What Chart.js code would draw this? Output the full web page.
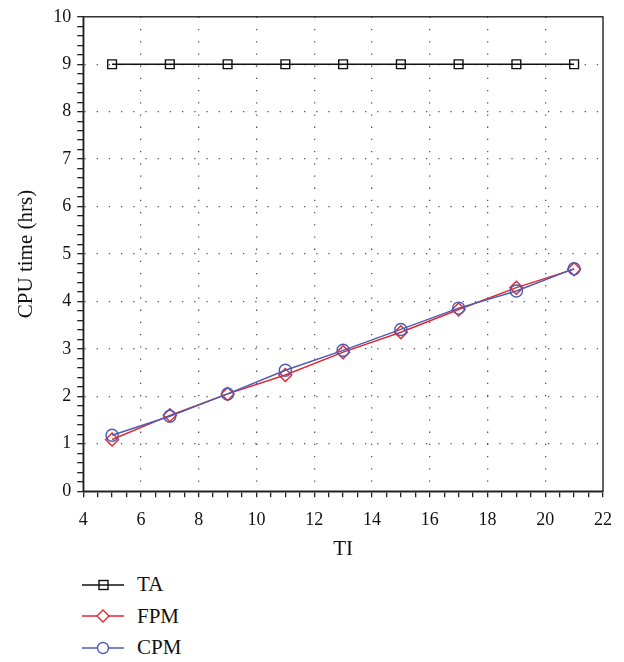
<!DOCTYPE html>
<html>
<head>
<meta charset="utf-8">
<script src="https://cdn.jsdelivr.net/npm/chart.js@4"></script>
<style>
    body { margin: 0; background: #fff; }
    #wrap { position: relative; width: 624px; height: 662px; }
    #box { position: absolute; left: 0; top: 0; width: 624px; height: 562px; }
    #legend { position: absolute; left: 82px; top: 569px; font-family: "Liberation Serif", serif; font-size: 21px; color: #111; }
    #legend .row { display: flex; align-items: center; height: 31.5px; }
    #legend svg { margin-right: 13px; }
</style>
</head>
<body>
<div id="wrap">
    <div id="box"><canvas id="grafico"></canvas></div>
    <div id="legend"></div>
</div>
<script>
// valores lidos por série (x = TI)
const tiValues = [5, 7, 9, 11, 13, 15, 17, 19, 21];
const taValues = [9, 9, 9, 9, 9, 9, 9, 9, 9];
const fpmValues = [1.09, 1.6, 2.05, 2.45, 2.93, 3.35, 3.83, 4.29, 4.68];
const cpmValues = [1.18, 1.58, 2.05, 2.55, 2.97, 3.41, 3.86, 4.22, 4.69];

const seriesNames = ['TA', 'FPM', 'CPM'];
const seriesColors = ['#111111', '#e3262e', '#4a5cb4'];
const seriesMarkers = ['rect', 'rectRot', 'circle'];
const seriesRadius = [6.2, 6.5, 6];

const FONTE = '"Liberation Serif", "Times New Roman", serif';

function pontos(valores) {
    return tiValues.map((x, i) => ({ x: x, y: valores[i] }));
}

function ehInteiro(v) {
    return Math.abs(v - Math.round(v)) < 1e-6;
}

// moldura em volta da área do gráfico
const molduraPlugin = {
    id: 'moldura',
    afterDraw(chart) {
        const { ctx, chartArea: a } = chart;
        ctx.save();
        ctx.strokeStyle = '#222';
        ctx.lineWidth = 1.4;
        ctx.strokeRect(a.left, a.top, a.right - a.left, a.bottom - a.top);
        ctx.restore();
    }
};

const datasets = [taValues, fpmValues, cpmValues].map((valores, i) => ({
    label: seriesNames[i],
    data: pontos(valores),
    borderColor: seriesColors[i],
    backgroundColor: 'rgba(255,255,255,0)',
    borderWidth: 1.4,
    pointStyle: seriesMarkers[i],
    pointRadius: seriesRadius[i],
    pointBorderWidth: 1.4,
    pointBorderColor: seriesColors[i],
    pointBackgroundColor: 'rgba(255,255,255,0)',
    tension: 0,
    order: i === 2 ? 0 : 1
}));

const chart = new Chart(document.getElementById('grafico'), {
    type: 'line',
    data: { datasets: datasets },
    options: {
        responsive: true,
        maintainAspectRatio: false,
        animation: false,
        layout: { padding: { top: 6, right: 20, left: 14, bottom: 0 } },
        plugins: {
            legend: { display: false },
            tooltip: { enabled: false }
        },
        scales: {
            x: {
                type: 'linear',
                min: 4,
                max: 22,
                title: { display: true, text: 'TI', font: { family: FONTE, size: 21 }, color: '#111', padding: { top: -6, bottom: 0 } },
                ticks: {
                    stepSize: 0.5,
                    autoSkip: false,
                    maxRotation: 0,
                    color: '#111',
                    font: { family: FONTE, size: 18 },
                    padding: 12,
                    callback: v => (ehInteiro(v) && Math.round(v) % 2 === 0) ? String(Math.round(v)) : ''
                },
                grid: {
                    color: c => (c.tick && ehInteiro(c.tick.value) && Math.round(c.tick.value) % 2 === 0 && c.tick.value > 4 && c.tick.value < 22) ? '#555' : 'rgba(0,0,0,0)',
                    lineWidth: 1.3,
                    tickColor: '#222',
                    tickLength: 6,
                    tickWidth: 1.3
                },
                border: { display: true, color: '#222', width: 1.4, dash: [1.3, 10.9] }
            },
            y: {
                min: 0,
                max: 10,
                title: { display: true, text: 'CPU time (hrs)', font: { family: FONTE, size: 21 }, color: '#111', padding: { top: 0, bottom: 8 } },
                ticks: {
                    stepSize: 0.2,
                    autoSkip: false,
                    color: '#111',
                    font: { family: FONTE, size: 18 },
                    padding: 6,
                    callback: v => ehInteiro(v) ? String(Math.round(v)) : ''
                },
                grid: {
                    color: c => (c.tick && ehInteiro(c.tick.value) && c.tick.value > 0 && c.tick.value < 10) ? '#555' : 'rgba(0,0,0,0)',
                    lineWidth: 1.3,
                    tickColor: '#222',
                    tickLength: 6,
                    tickWidth: 1.3
                },
                border: { display: true, color: '#222', width: 1.4, dash: [1.3, 10.9] }
            }
        }
    },
    plugins: [molduraPlugin]
});

// legenda em coluna, montada a partir das séries do gráfico
function marcadorSvg(estilo, cor) {
    if (estilo === 'rect') return `<rect x="17" y="5.5" width="9" height="9" fill="none" stroke="${cor}" stroke-width="1.4"/>`;
    if (estilo === 'rectRot') return `<polygon points="21,4 27,10 21,16 15,10" fill="#fff" stroke="${cor}" stroke-width="1.4"/>`;
    return `<circle cx="21" cy="10" r="5.5" fill="#fff" stroke="${cor}" stroke-width="1.4"/>`;
}

const legenda = document.getElementById('legend');
chart.data.datasets.forEach((ds, i) => {
    const row = document.createElement('div');
    row.className = 'row';
    row.innerHTML = `
        <svg width="42" height="20" viewBox="0 0 42 20">
            <line x1="0" y1="10" x2="42" y2="10" stroke="${ds.borderColor}" stroke-width="1.5"/>
            ${marcadorSvg(seriesMarkers[i], ds.borderColor)}
        </svg>
        <span>${ds.label}</span>
    `;
    legenda.appendChild(row);
});
</script>
</body>
</html>
